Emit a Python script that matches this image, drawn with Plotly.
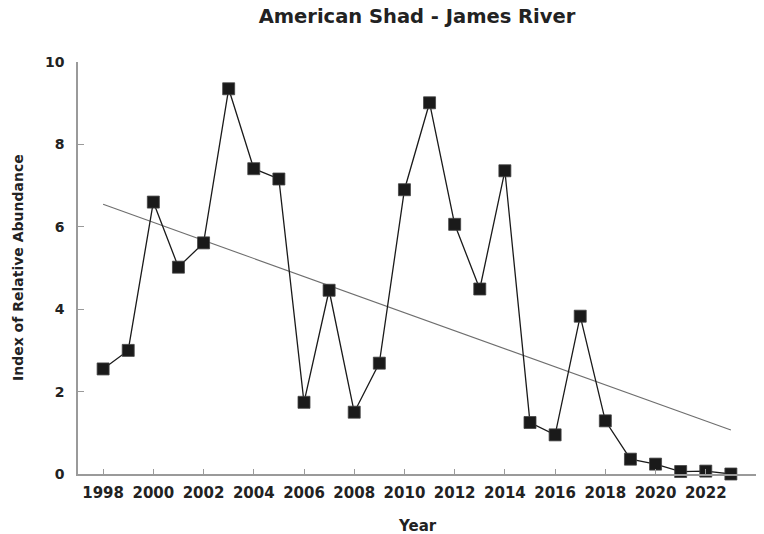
import numpy as np
import plotly.graph_objects as go

# American shad index of relative abundance, James River
years = list(range(1998, 2024))
abundance = [2.55, 3.00, 6.60, 5.02, 5.61, 9.35, 7.41, 7.16, 1.74, 4.46,
             1.50, 2.69, 6.90, 9.01, 6.06, 4.49, 7.36, 1.25, 0.95, 3.83,
             1.29, 0.36, 0.24, 0.06, 0.07, 0.00]

x_tickvals = [1998, 2000, 2002, 2004, 2006, 2008, 2010, 2012, 2014, 2016,
              2018, 2020, 2022, 2024]
x_ticktext = ["1998", "2000", "2002", "2004", "2006", "2008", "2010", "2012",
              "2014", "2016", "2018", "2020", "2022", ""]
y_tickvals = [0, 2, 4, 6, 8, 10]

# least-squares linear trend over the full series
slope, intercept = np.polyfit(years, abundance, 1)
trend_x = [years[0], years[-1]]
trend_y = [slope * x + intercept for x in trend_x]

FONT = "DejaVu Sans"
TEXT = "#222222"
AXIS = "#9a9a9a"

fig = go.Figure()
fig.add_trace(go.Scatter(
    x=trend_x, y=trend_y, mode="lines",
    line=dict(color="#6e6e6e", width=1.1),
    hoverinfo="skip", showlegend=False,
))
fig.add_trace(go.Scatter(
    x=years, y=abundance, mode="lines+markers",
    line=dict(color="#1a1a1a", width=1.3),
    marker=dict(symbol="square", size=12, color="#1a1a1a",
                line=dict(color="#444444", width=0.8)),
    cliponaxis=False, showlegend=False,
))

fig.update_layout(
    width=764, height=534,
    margin=dict(l=78, r=8, t=62, b=60),
    paper_bgcolor="white", plot_bgcolor="white",
    font=dict(family=FONT, color=TEXT),
    title=dict(text="<b>American Shad - James River</b>",
               x=0.5, xref="paper", xanchor="center",
               y=1 - 16.5 / 534, yref="container", yanchor="middle",
               font=dict(family=FONT, size=19.5, color=TEXT)),
    xaxis=dict(
        range=[1997, 2024], tickmode="array",
        tickvals=x_tickvals, ticktext=x_ticktext,
        ticks="inside", ticklen=5, tickwidth=1.2, tickcolor=AXIS,
        showline=True, linecolor=AXIS, linewidth=1.5,
        showgrid=False, zeroline=False,
        tickfont=dict(family=FONT, size=15, color=TEXT, weight="bold"),
        ticklabelstandoff=4,
    ),
    yaxis=dict(
        range=[0, 10], tickmode="array", tickvals=y_tickvals,
        ticks="inside", ticklen=6, tickwidth=1.2, tickcolor=AXIS,
        showline=True, linecolor=AXIS, linewidth=1.5,
        showgrid=False, zeroline=False,
        tickfont=dict(family=FONT, size=14, color=TEXT, weight="bold"),
        ticklabelstandoff=9,
    ),
    annotations=[
        dict(text="<b>Year</b>", xref="paper", yref="paper",
             x=0.5, y=0, yshift=-52, xanchor="center", yanchor="middle",
             showarrow=False, font=dict(family=FONT, size=15, color=TEXT)),
        dict(text="<b>Index of Relative Abundance</b>", xref="paper", yref="paper",
             x=0, xshift=-60, y=0.5, xanchor="center", yanchor="middle",
             textangle=-90, showarrow=False,
             font=dict(family=FONT, size=14, color=TEXT)),
    ],
)

fig.write_html("out.html")
